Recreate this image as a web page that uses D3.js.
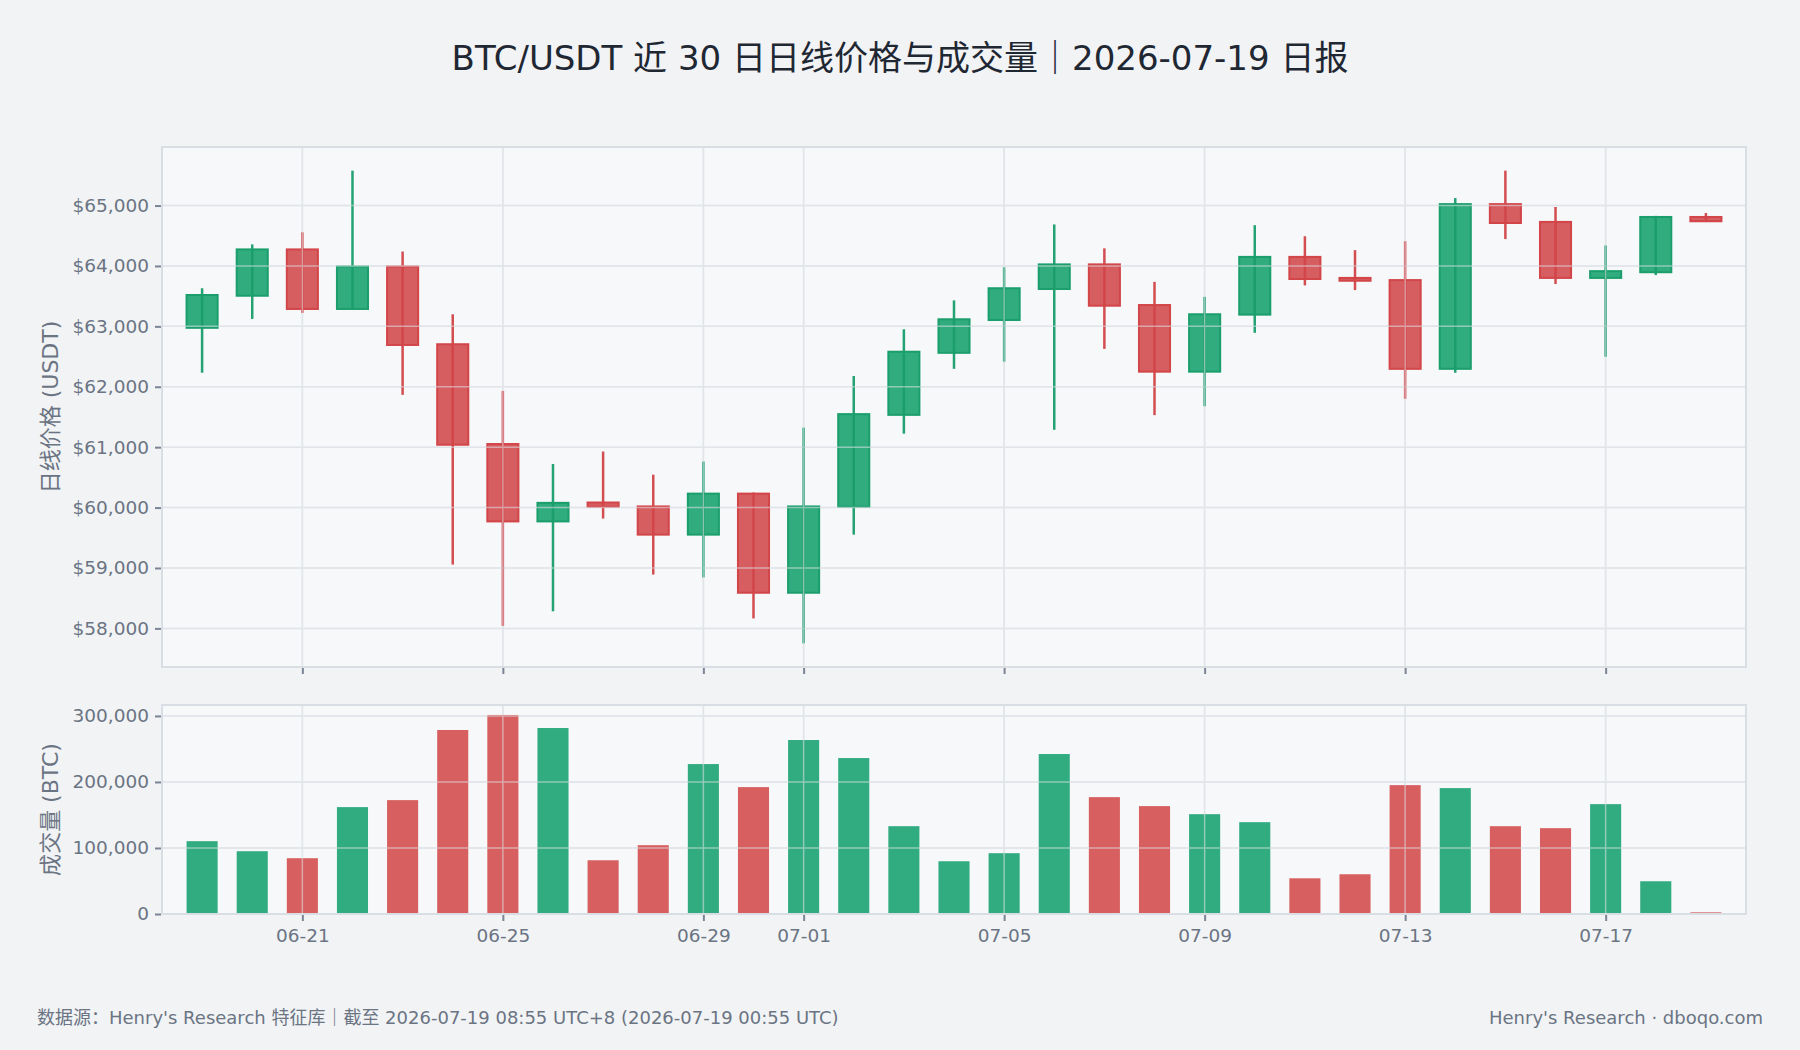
<!DOCTYPE html>
<html><head><meta charset="utf-8">
<script src="https://cdn.jsdelivr.net/npm/d3@7"></script>
<style>
html,body{margin:0;padding:0;background:#f1f3f5;}
svg text{font-family:"DejaVu Sans","Noto Sans CJK SC",sans-serif;}
</style></head>
<body>
<svg id="chart" width="1800" height="1050"></svg>
<script>
// ---- data ----
const dates = ["2026-06-19","2026-06-20","2026-06-21","2026-06-22","2026-06-23","2026-06-24","2026-06-25","2026-06-26","2026-06-27","2026-06-28","2026-06-29","2026-06-30","2026-07-01","2026-07-02","2026-07-03","2026-07-04","2026-07-05","2026-07-06","2026-07-07","2026-07-08","2026-07-09","2026-07-10","2026-07-11","2026-07-12","2026-07-13","2026-07-14","2026-07-15","2026-07-16","2026-07-17","2026-07-18","2026-07-19"];
const open  = [62976,63507,64274,63288,63991,62704,61052,59771,60084,60019,59552,60231,58590,60013,61535,62562,63105,63619,64026,63353,62250,63194,64150,63802,63766,62297,65024,64729,63802,63896,64811];
const high  = [63631,64357,64557,65578,64239,63200,61931,60721,60928,60544,60762,60249,61323,62179,62952,63430,63979,64687,64292,63737,63489,64675,64492,64262,64410,65124,65578,64976,64339,64829,64876];
const low   = [62232,63123,63223,63280,61866,59057,58041,58283,59818,58891,58844,58165,57752,59552,61223,62297,62415,61288,62627,61530,61677,62893,63678,63601,61801,62232,64445,63702,62497,63849,64735];
const close = [63519,64274,63288,63991,62692,61040,59771,60078,60013,59552,60231,58590,60019,61547,62580,63117,63631,64026,63342,62250,63200,64150,63784,63755,62297,65024,64711,63802,63914,64811,64740];
const volume = [110300,95100,84500,161900,172500,278700,301500,281700,81400,104200,227100,192200,263500,236200,133000,79900,92100,242300,177000,163400,151200,139100,54100,60200,195200,190700,133000,130000,166400,49600,2500];

const titleText = "BTC/USDT 近 30 日日线价格与成交量｜2026-07-19 日报";
const priceLabel = "日线价格 (USDT)";
const volLabel = "成交量 (BTC)";
const footLeft = "数据源：Henry's Research 特征库｜截至 2026-07-19 08:55 UTC+8 (2026-07-19 00:55 UTC)";
const footRight = "Henry's Research · dboqo.com";

// ---- setup ----
const W = 1800, H = 1050;
const C = {up:"#1a9e6c", upFill:"#26a878", dn:"#d24548", dnFill:"#d45457",
           upVol:"#31ab80", dnVol:"#d75f5f", grid:"#e1e4e9", border:"#d9dee4",
           plotBg:"#f7f8fa", text:"#6b7483", tick:"#7b8494"};
const pL = 162, pR = 1746;
const priceTop = 147, priceBot = 667, volTop = 705, volBot = 914;

const parse = d3.utcParse("%Y-%m-%d");
const data = dates.map((d,i)=>({date:parse(d), o:open[i], h:high[i], l:low[i], c:close[i], v:volume[i]}));
const DAY = 864e5;
const x = d3.scaleUtc()
  .domain([new Date(+data[0].date - 0.8*DAY), new Date(+data[data.length-1].date + 0.8*DAY)])
  .range([pL, pR]);
const dayW = x(new Date(+data[0].date + DAY)) - x(data[0].date);
const bw = dayW * 0.62;

const lo = d3.min(low), hi = d3.max(high), pad = (hi-lo)*0.05;
const y = d3.scaleLinear().domain([lo-pad, hi+pad]).range([priceBot, priceTop]);
const yv = d3.scaleLinear().domain([0, d3.max(volume)*1.05]).range([volBot, volTop]);

const svg = d3.select("#chart");
svg.append("rect").attr("width",W).attr("height",H).attr("fill","#f1f3f5");

const xTicks = x.ticks(d3.utcDay.every(4));
const fmtDate = d3.utcFormat("%m-%d");

function panel(top, bot){
  const g = svg.append("g");
  g.append("rect").attr("x",pL).attr("y",top).attr("width",pR-pL).attr("height",bot-top).attr("fill",C.plotBg);
  return g;
}
function gridLines(g, top, bot, yScale, yTicks, op){
  const gg = g.append("g").attr("opacity",op);
  gg.selectAll(".gy").data(yTicks).join("line")
    .attr("x1",pL).attr("x2",pR).attr("y1",d=>yScale(d)).attr("y2",d=>yScale(d))
    .attr("stroke",C.grid).attr("stroke-width",1.5);
  gg.selectAll(".gx").data(xTicks).join("line")
    .attr("x1",d=>x(d)).attr("x2",d=>x(d)).attr("y1",top).attr("y2",bot)
    .attr("stroke",C.grid).attr("stroke-width",1.5);
}
function frame(g, top, bot){
  g.append("rect").attr("x",pL).attr("y",top).attr("width",pR-pL).attr("height",bot-top)
    .attr("fill","none").attr("stroke",C.border).attr("stroke-width",2);
}

// ---- price panel ----
const pTicks = d3.range(58000, 65001, 1000);
const gp = panel(priceTop, priceBot);
gridLines(gp, priceTop, priceBot, y, pTicks, 1);
const cg = gp.append("g");
cg.selectAll("rect").data(data).join("rect")
  .attr("x",d=>x(d.date)-bw/2).attr("width",bw)
  .attr("y",d=>y(Math.max(d.o,d.c))).attr("height",d=>Math.max(1.5, Math.abs(y(d.o)-y(d.c))))
  .attr("fill",d=>d.c>=d.o?C.upFill:C.dnFill).attr("fill-opacity",0.95)
  .attr("stroke",d=>d.c>=d.o?C.up:C.dn).attr("stroke-width",2);
gridLines(gp, priceTop, priceBot, y, pTicks, 0.55);
cg.append("g").selectAll("line").data(data).join("line")
  .attr("x1",d=>x(d.date)).attr("x2",d=>x(d.date))
  .attr("y1",d=>y(d.h)).attr("y2",d=>y(d.l))
  .attr("stroke",d=>d.c>=d.o?C.up:C.dn).attr("stroke-width",2.5).attr("opacity",0.95);
frame(gp, priceTop, priceBot);

// ---- volume panel ----
const vTicks = [0,100000,200000,300000];
const gv = panel(volTop, volBot);
gridLines(gv, volTop, volBot, yv, vTicks, 1);
gv.append("g").selectAll("rect").data(data).join("rect")
  .attr("x",d=>x(d.date)-bw/2).attr("width",bw)
  .attr("y",d=>yv(d.v)).attr("height",d=>yv(0)-yv(d.v))
  .attr("fill",d=>d.c>=d.o?C.upVol:C.dnVol);
gridLines(gv, volTop, volBot, yv, vTicks, 0.55);
frame(gv, volTop, volBot);

// ---- axes ----
function styleAxis(g){
  g.select(".domain").remove();
  g.selectAll(".tick line").attr("stroke",C.tick).attr("stroke-width",2);
  g.selectAll(".tick text").attr("fill",C.text).attr("font-size",18.5);
}
svg.append("g").attr("transform",`translate(${pL-1},0)`)
  .call(d3.axisLeft(y).tickValues(pTicks).tickSize(6).tickPadding(6).tickFormat(d=>"$"+d3.format(",")(d)))
  .call(styleAxis);
svg.append("g").attr("transform",`translate(${pL-1},0)`)
  .call(d3.axisLeft(yv).tickValues(vTicks).tickSize(6).tickPadding(6).tickFormat(d3.format(",")))
  .call(styleAxis);
svg.append("g").attr("transform",`translate(0,${priceBot+1})`)
  .call(d3.axisBottom(x).tickValues(xTicks).tickSize(6).tickFormat(""))
  .call(styleAxis);
svg.append("g").attr("transform",`translate(0,${volBot+1})`)
  .call(d3.axisBottom(x).tickValues(xTicks).tickSize(6).tickPadding(8).tickFormat(fmtDate))
  .call(styleAxis);

// axis titles
svg.append("text").attr("transform",`translate(50,${(priceTop+priceBot)/2}) rotate(-90)`)
  .attr("text-anchor","middle").attr("dominant-baseline","central")
  .attr("fill",C.text).attr("font-size",22).text(priceLabel);
svg.append("text").attr("transform",`translate(50,${(volTop+volBot)/2}) rotate(-90)`)
  .attr("text-anchor","middle").attr("dominant-baseline","central")
  .attr("fill",C.text).attr("font-size",22).text(volLabel);

// title
svg.append("text").attr("x",W/2).attr("y",58).attr("text-anchor","middle").attr("dominant-baseline","central")
  .attr("fill","#1f2733").attr("font-size",34).text(titleText);

// footer
svg.append("text").attr("x",37).attr("y",1017).attr("dominant-baseline","central")
  .attr("fill",C.text).attr("font-size",18).text(footLeft);
svg.append("text").attr("x",1763).attr("y",1017).attr("text-anchor","end").attr("dominant-baseline","central")
  .attr("fill",C.text).attr("font-size",18).text(footRight);
</script>
</body></html>
